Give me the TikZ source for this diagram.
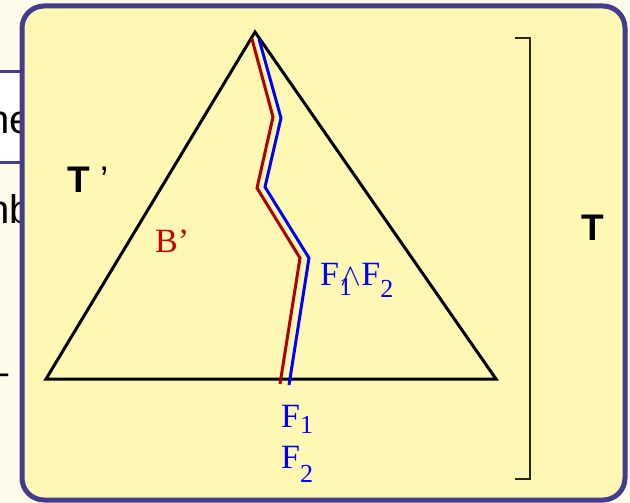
\documentclass[tikz,border=0pt]{standalone}
\usepackage{fontspec}
\setmainfont{Liberation Serif}
\newfontfamily\arialf{Liberation Sans}
\definecolor{creambg}{RGB}{255,251,235}
\definecolor{panelfill}{RGB}{255,247,180}
\definecolor{panelborder}{RGB}{66,61,140}
\definecolor{pathred}{RGB}{176,0,0}
\definecolor{labred}{RGB}{204,0,0}
\definecolor{pathblue}{RGB}{0,0,255}
\tikzset{
  bgtext/.style={anchor=base west, inner sep=0pt, font=\arialf\fontsize{40}{44}\selectfont},
  serlab/.style={anchor=base west, inner sep=0pt, font=\fontsize{34}{40}\selectfont},
  sanslab/.style={inner sep=0pt, font=\arialf\fontsize{37}{42}\selectfont},
  triline/.style={line width=3pt, line join=miter},
  redpath/.style={pathred, line width=3pt, line join=miter},
  bluepath/.style={pathblue, line width=3pt, line join=miter},
}
\newcommand{\subsc}[2]{\raisebox{-#1pt}{\fontsize{26}{26}\selectfont #2}}
\newcommand{\meetwedge}{\kern1pt\scalebox{1.25}{$\wedge$}\kern0.5pt}
\begin{document}
\begin{tikzpicture}[x=1pt,y=-1pt]
\useasboundingbox (0,0) rectangle (630,503);
% background slide
\fill[creambg] (0,0) rectangle (630,503);
\fill[white] (-5,72) rectangle (40,162);
\draw[panelborder, line width=3pt] (-5,72) -- (40,72) (-5,162) -- (40,162);
\node[bgtext] (bgA) at (-13,133) {he};
\node[bgtext] (bgB) at (-13,223) {nb};
\node[bgtext] (bgC) at (-14,385) {–};
% panel
\draw[panelborder, fill=panelfill, line width=5pt, rounded corners=22pt] (22,6) rectangle (625,500);
% triangle
\coordinate (apex) at (255,32);
\coordinate (bl) at (46,379);
\coordinate (br) at (496,379);
\draw[triline] (apex) -- (bl) -- (br) -- cycle;
% paths
\coordinate (r0) at (252,39);
\coordinate (r1) at (273,117);
\coordinate (r2) at (257,188);
\coordinate (r3) at (300,258);
\coordinate (r4) at (280,384);
\coordinate (b0) at (259,39);
\coordinate (b1) at (281,118);
\coordinate (b2) at (265,187);
\coordinate (b3) at (309,258);
\coordinate (b4) at (289,385);
\draw[redpath] (r0) -- (r1) -- (r2) -- (r3) -- (r4);
\draw[bluepath] (b0) -- (b1) -- (b2) -- (b3) -- (b4);
% bracket
\coordinate (kt0) at (515,38);
\coordinate (kt1) at (530,38);
\coordinate (kb1) at (530,479);
\coordinate (kb0) at (515,479);
\draw[black!85, line width=1.1pt] (kt0) -- (kt1) -- (kb1) -- (kb0);
% labels
\node[sanslab, anchor=base west] (Tp) at (67,192) {\bfseries T\mdseries\ ’};
\node[sanslab, anchor=base] (T) at (593,240) {\bfseries T};
\node[serlab, text=labred] (Bp) at (155,252) {B’};
\node[serlab, text=pathblue] (meet) at (320,285) {F\rlap{\subsc{10}{1}}\meetwedge F\subsc{12}{2}};
\node[serlab, text=pathblue] (F1) at (281,427) {F\subsc{6}{1}};
\node[serlab, text=pathblue] (F2) at (281,468) {F\subsc{14}{2}};
\end{tikzpicture}
\end{document}
